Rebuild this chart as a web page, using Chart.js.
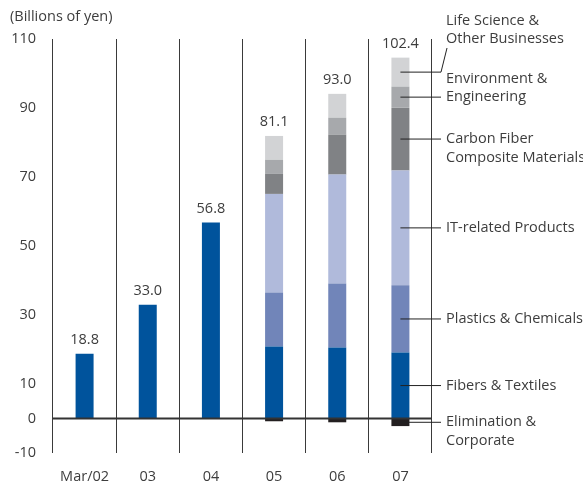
<!DOCTYPE html>
<html>
<head>
<meta charset="utf-8">
<script src="https://cdn.jsdelivr.net/npm/chart.js@4"></script>
<style>
  body { margin: 0; background: #fff; }
  canvas { display: block; }
</style>
</head>
<body>
<canvas id="salesChart" width="583" height="490"></canvas>
<script>
// Net sales by segment (billions of yen)
const years = ["Mar/02", "03", "04", "05", "06", "07"];
const fibers = [18.8, 33.0, 56.8, 20.9, 20.6, 19.1];
const plastics = [null, null, null, 15.6, 18.5, 19.5];
const itProducts = [null, null, null, 28.6, 31.6, 33.3];
const carbonFiber = [null, null, null, 5.8, 11.6, 18.2];
const environment = [null, null, null, 4.1, 4.9, 6.1];
const lifeScience = [null, null, null, 6.9, 6.9, 8.4];
const elimination = [null, null, null, -0.8, -1.1, -2.2];
const totals = [18.8, 33.0, 56.8, 81.1, 93.0, 102.4];
const yTicks = [-10, 0, 10, 30, 50, 70, 90, 110];

const segmentNames = [
  "Fibers & Textiles",
  "Plastics & Chemicals",
  "IT-related Products",
  "Carbon Fiber\nComposite Materials",
  "Environment &\nEngineering",
  "Life Science &\nOther Businesses",
  "Elimination &\nCorporate"
];

const textColor = "#3d3d3d";
const fontFamily = "'Open Sans', sans-serif";
const fontSize = 14.5;

function series(name, data, color) {
  return { label: name, data: data, backgroundColor: color, borderWidth: 0, stack: "s" };
}

const datasets = [
  series(segmentNames[0], fibers, "#00539c"),
  series(segmentNames[1], plastics, "#7185b9"),
  series(segmentNames[2], itProducts, "#b0badb"),
  series(segmentNames[3], carbonFiber, "#808285"),
  series(segmentNames[4], environment, "#a7a9ac"),
  series(segmentNames[5], lifeScience, "#d2d3d5"),
  series(segmentNames[6], elimination, "#231f20")
];

// which line of a label sits on its leader line
const anchorLine = [0, 0, 0, 0, 1, 1, 0];

const extras = {
  id: "extras",
  afterDatasetsDraw(chart) {
    const ctx = chart.ctx;
    const area = chart.chartArea;
    const y = chart.scales.y;
    const x = chart.scales.x;
    ctx.save();

    // zero line
    const zeroY = y.getPixelForValue(0);
    ctx.strokeStyle = "#333";
    ctx.lineWidth = 2;
    ctx.beginPath();
    ctx.moveTo(area.left, zeroY);
    ctx.lineTo(area.right, zeroY);
    ctx.stroke();

    ctx.font = fontSize + "px " + fontFamily;
    ctx.fillStyle = textColor;

    // totals above each column
    ctx.textAlign = "center";
    ctx.textBaseline = "middle";
    totals.forEach((t, i) => {
      let top = 0;
      datasets.forEach(ds => { if (ds.data[i] > 0) top += ds.data[i]; });
      ctx.fillText(t.toFixed(1), x.getPixelForValue(i), y.getPixelForValue(top) - 14);
    });

    // segment labels with leaders from the last column
    const last = years.length - 1;
    const textX = 446;
    const lineH = 18.5;
    ctx.textAlign = "left";
    ctx.lineWidth = 1;
    ctx.strokeStyle = "#222";
    datasets.forEach((ds, d) => {
      const bar = chart.getDatasetMeta(d).data[last];
      const midY = (bar.y + bar.base) / 2;
      const lines = ds.label.split("\n");
      ctx.beginPath();
      ctx.moveTo(bar.x, midY);
      ctx.lineTo(441, midY);
      let firstY;
      if (d === 5) {
        ctx.lineTo(447, 48);
        firstY = 48 - 9 - lineH;
      } else {
        firstY = midY - anchorLine[d] * lineH;
      }
      ctx.stroke();
      lines.forEach((ln, k) => ctx.fillText(ln, textX, firstY + k * lineH));
    });

    // unit caption
    ctx.fillText("(Billions of yen)", 10, 17);
    ctx.restore();
  }
};

new Chart(document.getElementById("salesChart"), {
  type: "bar",
  data: { labels: years, datasets: datasets },
  options: {
    responsive: false,
    animation: false,
    layout: { padding: { top: 39, right: 151, left: 0, bottom: 0 } },
    datasets: { bar: { barPercentage: 1, categoryPercentage: 0.285 } },
    plugins: { legend: { display: false }, tooltip: { enabled: false } },
    scales: {
      x: {
        stacked: true,
        offset: true,
        grid: { display: true, offset: true, color: "#3a3a3a", lineWidth: 1, drawTicks: false },
        border: { display: false },
        ticks: { color: textColor, font: { family: fontFamily, size: fontSize }, padding: 15, maxRotation: 0 },
        afterFit(scale) { scale.height = 37; }
      },
      y: {
        stacked: true,
        min: -10,
        max: 110,
        grid: { display: false, drawTicks: false },
        border: { display: false },
        ticks: { color: textColor, font: { family: fontFamily, size: fontSize }, padding: 17 },
        afterBuildTicks(scale) { scale.ticks = yTicks.map(v => ({ value: v })); },
        afterFit(scale) { scale.width = 53; }
      }
    }
  },
  plugins: [extras]
});
</script>
</body>
</html>
